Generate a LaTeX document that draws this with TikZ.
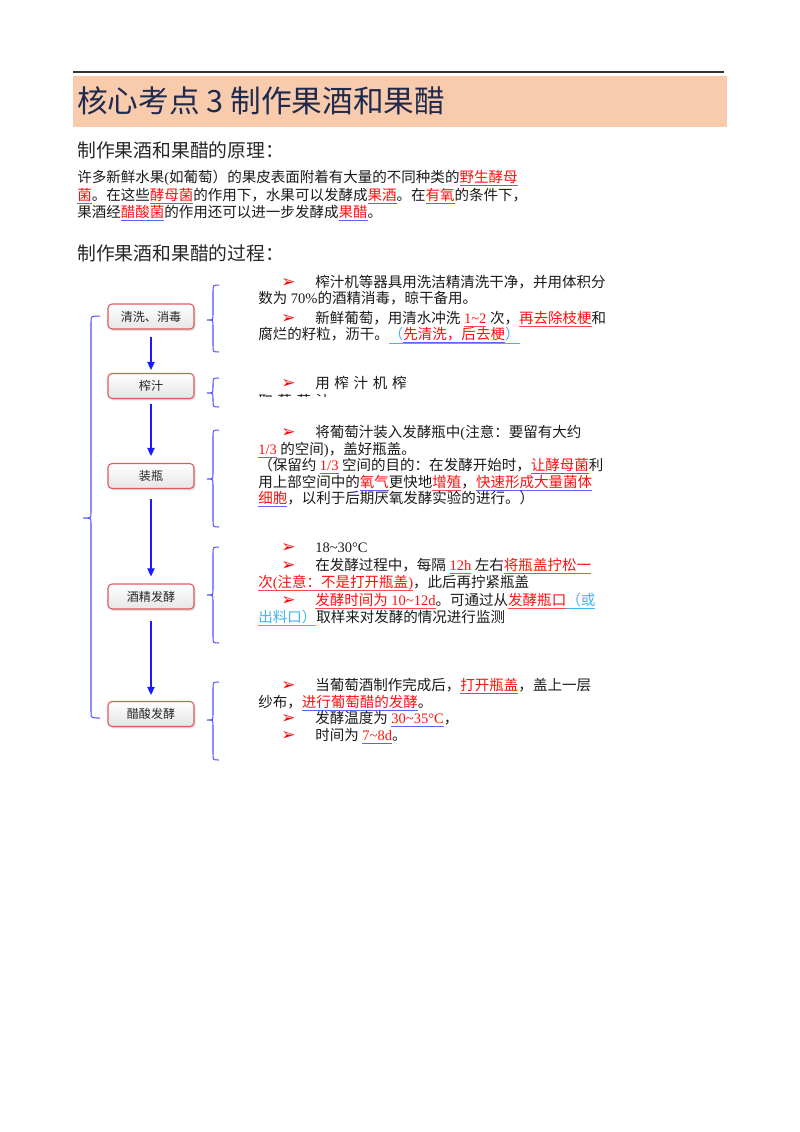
\documentclass[tikz,border=0pt]{standalone}
\usepackage{fontspec}
\setmainfont{Noto Sans CJK SC}
\newfontfamily\latf{Liberation Serif}
\newfontfamily\sym{DejaVu Sans}
\usetikzlibrary{arrows.meta,shadows,calc}
\definecolor{band}{HTML}{F8CBAD}
\definecolor{titleblue}{HTML}{1F2B4E}
\definecolor{boxred}{HTML}{E05A5A}
\definecolor{arrblue}{HTML}{1A1AFF}
\definecolor{brblue}{HTML}{5050FF}
\definecolor{ulb}{HTML}{6060FF}
\definecolor{ulr}{HTML}{FF4A4A}
\definecolor{ulc}{HTML}{3DB5F0}
\definecolor{bodytxt}{HTML}{1A1A1A}
\definecolor{redtxt}{HTML}{FF1010}
\newcommand\lat[1]{{\latf #1}}
\newcommand\tld{\char"7E\relax}
\newcommand\ulx[3]{\setbox0\hbox{#3}\rlap{\textcolor{#1}{\rule[#2]{\wd0}{0.6pt}}}\box0}
\newcommand\R[1]{\ulx{ulb}{-2.6pt}{\textcolor{redtxt}{#1}}}
\newcommand\RR[1]{\ulx{ulr}{-2.6pt}{\textcolor{redtxt}{#1}}}
\newcommand\C[1]{\ulx{ulc}{-2.6pt}{\textcolor{ulc}{#1}}}
\tikzset{
  txt/.style={anchor=base west, inner sep=0pt, text=bodytxt, font=\fontsize{10.8}{12}\selectfont},
  bulsty/.style={anchor=base west, inner sep=0pt, text=red, font=\sym\fontsize{12.5}{13}\selectfont},
  stepbox/.style={draw=boxred, line width=0.8pt, rounded corners=3pt, top color=white, bottom color=black!10,
    minimum width=64pt, minimum height=18.6pt, inner sep=0pt, text=black!85,
    font=\fontsize{9}{10}\selectfont, drop shadow={opacity=0.25, shadow xshift=1.2pt, shadow yshift=-1.4pt}},
  arr/.style={draw=arrblue, line width=0.8pt, -{Triangle[width=5.5pt,length=6pt]}},
  brcsty/.style={draw=brblue, line width=0.75pt},
  headsty/.style={anchor=base west, inner sep=0pt, text=black!85, font=\fontsize{14}{16}\selectfont},
}
\newcommand\tline[4]{\node[txt] (#1) at (#2,#3+5) {#4};}
\newcommand\bul[3]{\node[bulsty] (#1) at (#2,#3+5) {➢};}
\newcommand\brc[6]{\draw[brcsty] (#3,#4) .. controls (#2,#4) .. (#2,#4+6) -- (#2,#5-5) .. controls (#2,#5) .. (#1,#5) .. controls (#2,#5) .. (#2,#5+5) -- (#2,#6-6) .. controls (#2,#6) .. (#3,#6);}
\begin{document}
\begin{tikzpicture}[x=0.744pt,y=-0.744pt]
\useasboundingbox (0,0) rectangle (800,1132);
% header
\draw[line width=1.3pt, draw=black!80] (73,72) -- (724,72);
\fill[band] (73,76) rectangle (727,127);
\node[anchor=base west, inner sep=0pt, text=titleblue, font=\fontsize{22.8}{26}\selectfont] (title) at (77,112) {核心考点 3 制作果酒和果醋};
\node[headsty] (h1) at (77,157) {制作果酒和果醋的原理：};
\tline{p1}{77}{177}{许多新鲜水果\lat{(}如葡萄）的果皮表面附着有大量的不同种类的\R{野生酵母}}
\tline{p2}{77}{195}{\R{菌}。在这些\R{酵母菌}的作用下，水果可以发酵成\R{果酒}。在\R{有氧}的条件下，}
\tline{p3}{77}{212}{果酒经\R{醋酸菌}的作用还可以进一步发酵成\R{果醋}。}
\node[headsty] (h2) at (77,260) {制作果酒和果醋的过程：};
% flow boxes
\node[stepbox] (b1) at (151,316.5) {清洗、消毒};
\node[stepbox] (b2) at (151,386) {榨汁};
\node[stepbox] (b3) at (151,476) {装瓶};
\node[stepbox] (b4) at (151,596.5) {酒精发酵};
\node[stepbox] (b5) at (151,714) {醋酸发酵};
\draw[arr] ($(b1.south)+(0,7)$) -- ($(b2.north)+(0,-3)$);
\draw[arr] ($(b2.south)+(0,5)$) -- ($(b3.north)+(0,-7)$);
\draw[arr] ($(b3.south)+(0,10)$) -- ($(b4.north)+(0,-7)$);
\draw[arr] ($(b4.south)+(0,11)$) -- ($(b5.north)+(0,-6)$);
% braces
\brc{83}{91}{100}{316}{518}{718}
\brc{207}{213}{219}{285}{320}{352}
\brc{207}{213}{219}{378}{393}{407}
\brc{207}{213}{219}{430}{479}{527}
\brc{207}{213}{219}{547}{595}{643}
\brc{207}{213}{219}{682}{720}{760}
% block 1
\bul{u1}{281}{282}
\tline{a1}{315}{282}{榨汁机等器具用洗洁精清洗干净，并用体积分}
\tline{a2}{258}{298}{数为\lat{ 70\%}的酒精消毒，晾干备用。}
\bul{u2}{281}{318}
\tline{a3}{315}{318}{新鲜葡萄，用清水冲洗\lat{ }\RR{\lat{1\tld2}}\lat{ }次，\RR{再去除枝梗}和}
\tline{a4}{258}{334}{腐烂的籽粒，沥干。\ulx{ulc}{-3.3pt}{\textcolor{ulc}{（}\ulx{ulb}{-2.6pt}{\textcolor{redtxt}{先清洗，后去梗}}\textcolor{ulc}{）}}}
% block 2
\bul{u3}{281}{383}
\tline{c1}{315}{383}{用\hspace{3.5pt}榨\hspace{3.5pt}汁\hspace{3.5pt}机\hspace{3.5pt}榨}
\begin{scope}
\clip (250,388) rectangle (400,396);
\tline{c2}{258}{401}{取\hspace{3.5pt}葡\hspace{3.5pt}萄\hspace{3.5pt}汁}
\end{scope}
% block 3
\bul{u4}{281}{432}
\tline{d1}{315}{432}{将葡萄汁装入发酵瓶中\lat{(}注意：要留有大约}
\tline{d2}{258}{449}{\R{\lat{1/3}}\lat{ }的空间\lat{)}，盖好瓶盖。}
\tline{d3}{258}{465}{（保留约\lat{ }\R{\lat{1/3}}\lat{ }空间的目的：在发酵开始时，\R{让酵母菌}利}
\tline{d4}{258}{482}{用上部空间中的\R{氧气}更快地\RR{增殖}，\R{快速形成大量菌体}}
\tline{d5}{258}{498}{\R{细胞}，以利于后期厌氧发酵实验的进行。）}
% block 4
\bul{u5}{281}{547}
\tline{e1}{315}{547}{\lat{18\tld30°C}}
\bul{u6}{281}{565}
\tline{e2}{315}{565}{在发酵过程中，每隔\lat{ }\RR{\lat{12h}}\lat{ }左右\RR{将瓶盖拧松一}}
\tline{e3}{258}{582}{\RR{次\lat{(}注意：不是打开瓶盖\lat{)}}，此后再拧紧瓶盖}
\bul{u7}{281}{600}
\tline{e4}{315}{600}{\RR{发酵时间为\lat{ 10\tld12d}}。可通过从\RR{发酵瓶口}\C{（或}}
\tline{e5}{258}{617}{\C{出料口）}取样来对发酵的情况进行监测}
% block 5
\bul{u8}{281}{685}
\tline{f1}{315}{685}{当葡萄酒制作完成后，\R{打开瓶盖}，盖上一层}
\tline{f2}{258}{702}{纱布，\R{进行葡萄醋的发酵}。}
\bul{u9}{281}{718}
\tline{f3}{315}{718}{发酵温度为\lat{ }\R{\lat{30\tld35°C}}，}
\bul{u10}{281}{735}
\tline{f4}{315}{735}{时间为\lat{ }\R{\lat{7\tld8d}}。}
\end{tikzpicture}
\end{document}
